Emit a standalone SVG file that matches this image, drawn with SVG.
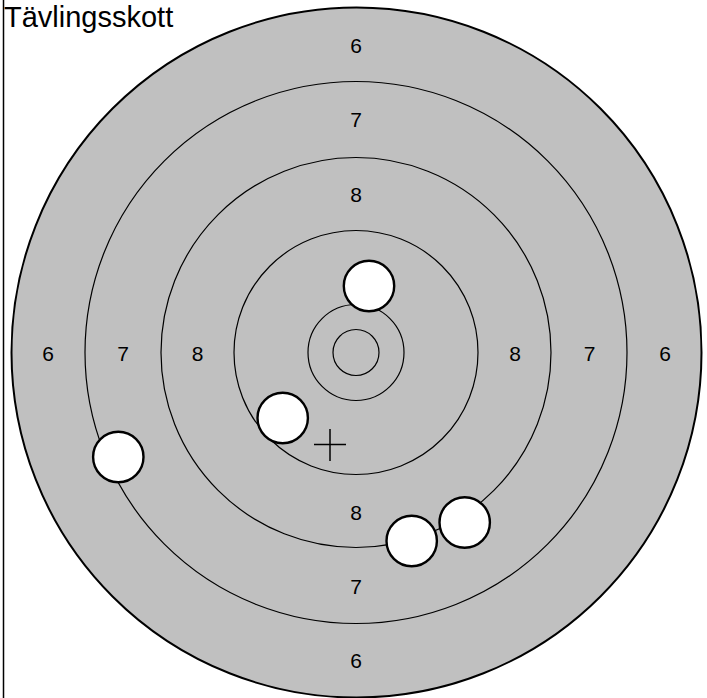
<svg xmlns="http://www.w3.org/2000/svg" width="707" height="698" viewBox="0 0 707 698">
<style>
.ring{fill:none;stroke:#000;stroke-width:1.2}
.lbl{font-family:"Liberation Sans",Arial,sans-serif;font-size:21px;fill:#000;text-anchor:middle;dominant-baseline:central}
.shot{fill:#fff;stroke:#000;stroke-width:2.4}
</style>
<rect x="0" y="0" width="707" height="698" fill="#fff"/>
<line x1="3.5" y1="0" x2="3.5" y2="698" stroke="#000" stroke-width="1.5"/>
<g id="target">
<circle cx="356.5" cy="352.5" r="345" fill="#c0c0c0" stroke="#000" stroke-width="2"/>
<circle class="ring" cx="356" cy="352.5" r="271"/>
<circle class="ring" cx="356" cy="352.5" r="195"/>
<circle class="ring" cx="356" cy="352.5" r="122"/>
<circle class="ring" cx="356" cy="352.5" r="48"/>
<circle class="ring" cx="356" cy="352.5" r="23"/>
</g>
<g id="labels">
<text class="lbl" x="356" y="45">6</text>
<text class="lbl" x="356" y="119">7</text>
<text class="lbl" x="356" y="194">8</text>
<text class="lbl" x="356" y="512">8</text>
<text class="lbl" x="356" y="586">7</text>
<text class="lbl" x="356" y="660.5">6</text>
<text class="lbl" x="48" y="353">6</text>
<text class="lbl" x="123" y="353">7</text>
<text class="lbl" x="197.5" y="353">8</text>
<text class="lbl" x="515" y="353">8</text>
<text class="lbl" x="589.5" y="353">7</text>
<text class="lbl" x="665" y="353">6</text>
</g>
<g id="shots">
<circle id="shot1" class="shot" cx="369" cy="286" r="25.2"/>
<circle id="shot2" class="shot" cx="282.7" cy="418" r="25.2"/>
<circle id="shot3" class="shot" cx="411.7" cy="541" r="25.2"/>
<circle id="shot4" class="shot" cx="464.7" cy="522.5" r="25.2"/>
<circle id="shot5" class="shot" cx="118.3" cy="457" r="25.2"/>
</g>
<g id="cross" stroke="#000" stroke-width="1.5">
<line x1="314" y1="444.5" x2="346" y2="444.5"/>
<line x1="330" y1="429" x2="330" y2="461"/>
</g>
<text x="4" y="27" font-family="'Liberation Sans',Arial,sans-serif" font-size="29">Tävlingsskott</text>
</svg>
